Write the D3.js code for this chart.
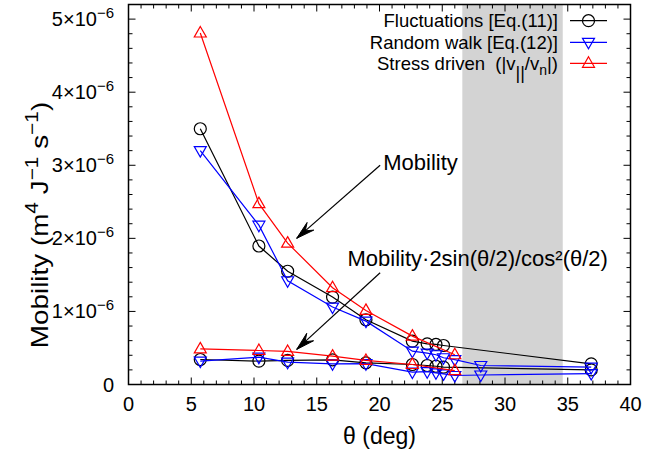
<!DOCTYPE html>
<html><head><meta charset="utf-8">
<script src="https://cdn.jsdelivr.net/npm/d3@7"></script>
<style>
body{margin:0;background:#fff}
text{font-family:"Liberation Sans",Arial,Helvetica,sans-serif;fill:#000}
</style></head>
<body><svg id="c" width="664" height="456"></svg>
<script>
// ---- data ----
const thetaFluct = [5.72,10.39,12.68,16.26,18.92,22.62,23.8,24.5,25.1,36.87];
const fluctMobility = [3.50,1.895,1.55,1.196,0.886,0.593,0.557,0.548,0.534,0.283];
const fluctScaled   = [0.342,0.32,0.329,0.338,0.297,0.274,0.26,0.25,0.237,0.20];

const thetaRW = [5.72,10.39,12.68,16.26,18.92,22.62,23.8,24.5,25.1,26.0,28.07,36.87];
const rwMobility = [3.20,2.18,1.42,1.06,0.867,0.456,0.43,0.407,0.366,0.34,0.26,0.237];
const rwScaled   = [0.32,0.374,0.305,0.283,0.285,0.17,0.175,0.16,0.146,0.123,0.13,0.15];

const thetaSD = [5.72,10.39,12.68,16.26,18.92,22.62,26.0];
const sdMobility = [4.81,2.475,1.935,1.325,1.014,0.662,0.407];
const sdScaled   = [0.488,0.465,0.452,0.388,0.329,0.274,0.19];

const xTicks = [0,5,10,15,20,25,30,35,40];
const yTicks = [0,1,2,3,4,5];          // ×1e-6
const shadeRange = [26.6,34.6];
const seriesNames = ["Fluctuations [Eq.(11)]","Random walk [Eq.(12)]","Stress driven"];
const annotations = [
  {text:"Mobility", x:20.3, y:2.93, from:[20.05,3.0], to:[13.4,2.0]},
  {text:"Mobility\u00b72sin(\u03b8/2)/cos\u00b2(\u03b8/2)", x:17.45, y:1.62, from:[20.05,1.53], to:[13.4,0.48]}
];

// ---- layout ----
const svg = d3.select("#c");
const L=128.5, R=630.5, T=4.5, B=384.5;
const x = d3.scaleLinear().domain([0,40]).range([L,R]);
const y = d3.scaleLinear().domain([0,5.2]).range([B,T]);

// shade
svg.append("rect").attr("x",x(shadeRange[0])).attr("y",T)
  .attr("width",x(shadeRange[1])-x(shadeRange[0])).attr("height",B-T).attr("fill","#d3d3d3");

// ticks (inward, mirrored)
const g = svg.append("g");
const xMinor = d3.range(0,41,1), yMinor = d3.range(0,5.21,0.2);
xMinor.forEach(v=>{
  const maj = v%5===0, len = maj?7:4;
  g.append("line").attr("x1",x(v)).attr("x2",x(v)).attr("y1",B).attr("y2",B-len).attr("stroke","#000");
  g.append("line").attr("x1",x(v)).attr("x2",x(v)).attr("y1",T).attr("y2",T+len).attr("stroke","#000");
});
yMinor.forEach(v=>{
  const maj = Math.abs(v-Math.round(v))<1e-6, len = maj?7:4;
  g.append("line").attr("y1",y(v)).attr("y2",y(v)).attr("x1",L).attr("x2",L+len).attr("stroke","#000");
  g.append("line").attr("y1",y(v)).attr("y2",y(v)).attr("x1",R).attr("x2",R-len).attr("stroke","#000");
});

// tick labels
xTicks.forEach(v=>{
  svg.append("text").attr("x",x(v)).attr("y",411).attr("text-anchor","middle").attr("font-size",20).text(v);
});
yTicks.forEach(v=>{
  const t = svg.append("text").attr("x",114).attr("y",y(v)+7).attr("text-anchor","end").attr("font-size",20);
  if(v===0){ t.text("0"); }
  else {
    t.append("tspan").text(v+"\u00d710");
    t.append("tspan").attr("dy",-8).attr("font-size",15).text("\u22126");
  }
});

// axis titles
svg.append("text").attr("x",(L+R)/2).attr("y",444).attr("text-anchor","middle").attr("font-size",23).text("\u03b8 (deg)");
const yt = svg.append("text").attr("transform","translate(48,225) rotate(-90) scale(1.16,1)").attr("text-anchor","middle").attr("font-size",24);
yt.append("tspan").text("Mobility (m");
yt.append("tspan").attr("dy",-10).attr("font-size",18).text("4");
yt.append("tspan").attr("dy",10).text(" J");
yt.append("tspan").attr("dy",-10).attr("font-size",18).text("\u22121");
yt.append("tspan").attr("dy",10).text(" s");
yt.append("tspan").attr("dy",-10).attr("font-size",18).text("\u22121");
yt.append("tspan").attr("dy",10).text(")");

// series
const line = d3.line().x(d=>x(d[0])).y(d=>y(d[1]));
const up = "M0,-6.5L6,4L-6,4Z", down = "M0,6.5L6,-4L-6,-4Z";
const series = [
  {th:thetaFluct, vals:[fluctMobility,fluctScaled], color:"#000", mk:"circle"},
  {th:thetaRW, vals:[rwMobility,rwScaled], color:"#0000ff", mk:down},
  {th:thetaSD, vals:[sdMobility,sdScaled], color:"#ff0000", mk:up}
];
function marker(sel, mk, color, cx, cy){
  if(mk==="circle") sel.append("circle").attr("cx",cx).attr("cy",cy).attr("r",6).attr("fill","none").attr("stroke",color).attr("stroke-width",1.2);
  else sel.append("path").attr("d",mk).attr("transform",`translate(${cx},${cy})`).attr("fill","none").attr("stroke",color).attr("stroke-width",1.2);
}
series.forEach(s=>{
  const sg = svg.append("g");
  s.vals.forEach(vs=>{
    const pts = s.th.map((t,i)=>[t,vs[i]]);
    sg.append("path").attr("d",line(pts)).attr("fill","none").attr("stroke",s.color).attr("stroke-width",1.2);
    pts.forEach(p=>marker(sg,s.mk,s.color,x(p[0]),y(p[1])));
  });
});

// annotations
function arrow(x1,y1,x2,y2){
  svg.append("line").attr("x1",x1).attr("y1",y1).attr("x2",x2).attr("y2",y2).attr("stroke","#000").attr("stroke-width",1.2);
  const a = Math.atan2(y1-y2,x1-x2), Lh=19, w=0.27;
  const p1=[x2+Lh*Math.cos(a+w), y2+Lh*Math.sin(a+w)];
  const p2=[x2+Lh*Math.cos(a-w), y2+Lh*Math.sin(a-w)];
  const n=[x2+Lh*0.6*Math.cos(a), y2+Lh*0.6*Math.sin(a)];
  svg.append("path").attr("d",`M${x2},${y2}L${p1}L${n}L${p2}Z`).attr("fill","#000").attr("stroke","#000").attr("stroke-width",1);
}
annotations.forEach(a=>{
  arrow(x(a.from[0]),y(a.from[1]),x(a.to[0]),y(a.to[1]));
  svg.append("text").attr("x",x(a.x)).attr("y",y(a.y)).attr("font-size",22).text(a.text);
});

// legend
const lg = svg.append("g");
const rows=[20.7,42.3,63.3];
series.forEach((s,i)=>{
  const ty = rows[i]+6.5;
  const t = lg.append("text").attr("x",558).attr("y",ty).attr("text-anchor","end").attr("font-size",18.5);
  if(i<2) t.text(seriesNames[i]);
  else {
    t.append("tspan").text(seriesNames[i]+"\u00a0\u00a0(|v");
    t.append("tspan").attr("dy",9).attr("font-size",18).text("||");
    t.append("tspan").attr("dy",-9).text("/v");
    t.append("tspan").attr("dy",5).attr("font-size",14).text("n");
    t.append("tspan").attr("dy",-5).text("|)");
  }
  lg.append("line").attr("x1",570).attr("x2",607).attr("y1",rows[i]).attr("y2",rows[i]).attr("stroke",s.color).attr("stroke-width",1.2);
  marker(lg,s.mk,s.color,588.5,rows[i]);
});

// border
svg.append("rect").attr("x",L).attr("y",T).attr("width",R-L).attr("height",B-T).attr("fill","none").attr("stroke","#000").attr("stroke-width",1.5);
</script></body></html>
